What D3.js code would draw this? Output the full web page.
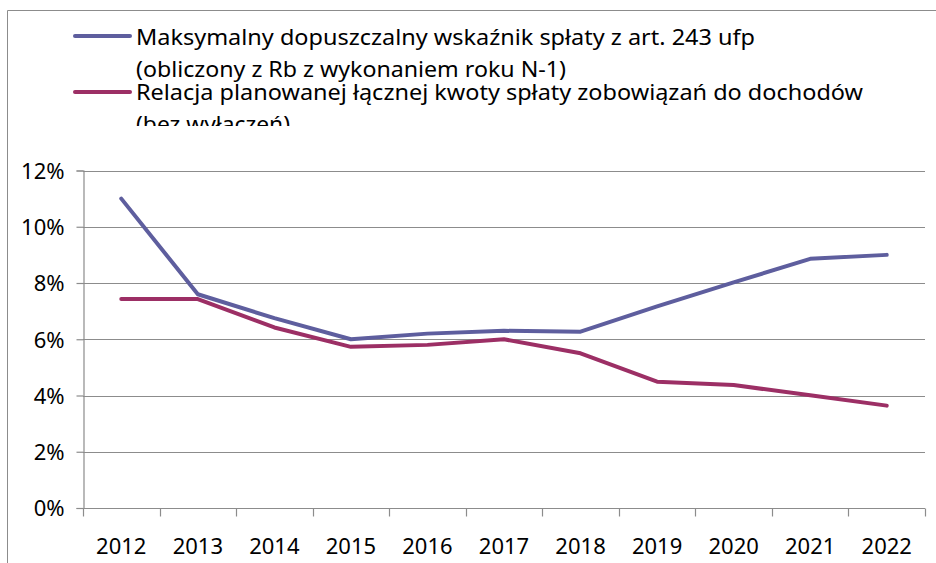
<!DOCTYPE html>
<html>
<head>
<meta charset="utf-8">
<script src="https://cdn.jsdelivr.net/npm/d3@7"></script>
<style>
  html, body { margin: 0; padding: 0; background: #fff; }
  svg { display: block; font-family: "Noto Sans", "Open Sans", sans-serif; }
</style>
</head>
<body>
<div id="chart"></div>
<script>
(function (d3) {
    'use strict';

    // dane (w %)
    var years = ['2012', '2013', '2014', '2015', '2016', '2017', '2018', '2019', '2020', '2021', '2022'];
    var maxWskaznik = [11.0, 7.6, 6.75, 6.0, 6.2, 6.3, 6.27, 7.17, 8.02, 8.86, 9.0];
    var relacja = [7.43, 7.43, 6.42, 5.73, 5.8, 6.0, 5.5, 4.49, 4.37, 4.01, 3.64];
    var yTicks = [0, 2, 4, 6, 8, 10, 12];
    var legendLabels = [
        ['Maksymalny dopuszczalny wskaźnik spłaty z art. 243 ufp', '(obliczony z Rb z wykonaniem roku N-1)'],
        ['Relacja planowanej łącznej kwoty spłaty zobowiązań do dochodów', '(bez wyłączeń)']
    ];
    var colors = ['#5e5e9e', '#9c2f65'];

    var width = 936,
        height = 563,
        left = 83,
        right = 925,
        top = 170.5,
        bottom = 508;

    var svg = d3.select('#chart')
        .append('svg')
        .attr('width', width)
        .attr('height', height);

    // ramka wykresu
    svg.append('path')
        .attr('d', 'M7.5,' + height + 'V10.5H' + width)
        .attr('fill', 'none')
        .attr('stroke', '#8c8c8c')
        .attr('stroke-width', 1);

    var x = d3.scaleBand().domain(years).range([left, right]);
    var y = d3.scaleLinear().domain([0, 12]).range([bottom, top]);

    // linie siatki
    svg.append('g')
        .selectAll('line')
        .data(yTicks.slice(1))
        .enter()
        .append('line')
        .attr('x1', left)
        .attr('x2', right)
        .attr('y1', function (d) { return Math.round(y(d)) + 0.5; })
        .attr('y2', function (d) { return Math.round(y(d)) + 0.5; })
        .attr('stroke', '#8c8c8c')
        .attr('stroke-width', 1.2);

    // oś Y
    var yAxis = svg.append('g')
        .attr('transform', 'translate(' + (left + 0.5) + ',0)')
        .call(d3.axisLeft(y).tickValues(yTicks).tickSize(7).tickPadding(12)
            .tickFormat(function (d) { return d + '%'; }));

    // oś X
    var xAxis = svg.append('g')
        .attr('transform', 'translate(0,' + (Math.round(bottom) + 0.5) + ')')
        .call(d3.axisBottom(x).tickSize(0).tickPadding(30));

    // podziałki między kategoriami
    xAxis.selectAll('line.sep')
        .data(d3.range(years.length + 1))
        .enter()
        .append('line')
        .attr('class', 'sep')
        .attr('x1', function (i) { return Math.round(left + i * x.step()) + 0.5; })
        .attr('x2', function (i) { return Math.round(left + i * x.step()) + 0.5; })
        .attr('y1', 0)
        .attr('y2', 8);

    [yAxis, xAxis].forEach(function (ax) {
        ax.selectAll('path.domain').attr('stroke', '#8c8c8c').attr('stroke-width', 1.2);
        ax.selectAll('line').attr('stroke', '#8c8c8c').attr('stroke-width', 1.2);
        ax.selectAll('text')
            .attr('fill', '#000')
            .style('font-size', '22px')
            .style('font-family', '"Noto Sans", sans-serif');
    });
    yAxis.selectAll('text').attr('dy', '0.36em');
    xAxis.selectAll('path.domain').attr('d', 'M' + left + ',0H' + right);

    // serie
    var line = d3.line()
        .x(function (d, i) { return x(years[i]) + x.bandwidth() / 2; })
        .y(function (d) { return y(d); });

    [maxWskaznik, relacja].forEach(function (series, k) {
        svg.append('path')
            .datum(series)
            .attr('d', line)
            .attr('fill', 'none')
            .attr('stroke', colors[k])
            .attr('stroke-width', 4)
            .attr('stroke-linejoin', 'round')
            .attr('stroke-linecap', 'round');
    });

    // legenda (ucięta na dole jak w oryginale)
    svg.append('clipPath')
        .attr('id', 'legendClip')
        .append('rect')
        .attr('x', 0)
        .attr('y', 12)
        .attr('width', width)
        .attr('height', 114);

    var legend = svg.append('g').attr('clip-path', 'url(#legendClip)');
    var textEnds = [[755, 566], [863, 290]];

    legendLabels.forEach(function (lines, k) {
        var baseY = 45 + k * 55;
        legend.append('line')
            .attr('x1', 75)
            .attr('x2', 130)
            .attr('y1', 36 + k * 56)
            .attr('y2', 36 + k * 56)
            .attr('stroke', colors[k])
            .attr('stroke-width', 4)
            .attr('stroke-linecap', 'round');
        lines.forEach(function (t, j) {
            legend.append('text')
                .attr('x', 136)
                .attr('y', baseY + j * 32)
                .attr('textLength', textEnds[k][j] - 136)
                .attr('lengthAdjust', 'spacingAndGlyphs')
                .style('font-size', '22px')
                .attr('fill', '#000')
                .text(t);
        });
    });

})(d3);
</script>
</body>
</html>
